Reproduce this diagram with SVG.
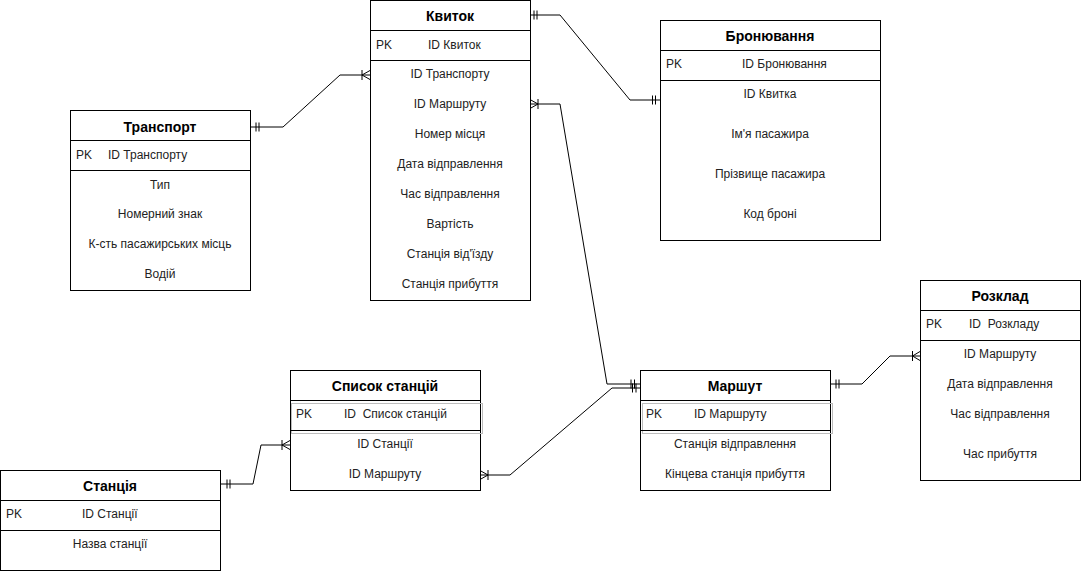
<svg xmlns="http://www.w3.org/2000/svg" width="1082" height="574" viewBox="0 0 1082 574">
<style>
.box{fill:#fff;stroke:#000;stroke-width:1}
.ln{stroke:#000;stroke-width:1;fill:none}
.gr{fill:none;stroke:#bdbdbd;stroke-width:1}
.t{font-family:"Liberation Sans",Arial,Helvetica,sans-serif;font-size:12px;fill:#222}
.c{text-anchor:middle}
.h{font-family:"Liberation Sans",Arial,Helvetica,sans-serif;font-size:14px;font-weight:bold;fill:#000;text-anchor:middle}
.e{stroke:#000;stroke-width:1;fill:none}
</style>
<rect width="1082" height="574" fill="#fff"/>

<g id="connectors">
  <!-- Транспорт -> Квиток -->
  <path class="e" d="M250,127 L283,127 L340,75 L370,75"/>
  <path class="e" d="M256,122.5 V131.5 M259,122.5 V131.5"/>
  <path class="e" d="M362,70 V80 M362,75 L370,70.5 M362,75 L370,79.5"/>
  <!-- Квиток -> Бронювання -->
  <path class="e" d="M530,15 L560,15 L630,100 L660,100"/>
  <path class="e" d="M534,10.5 V19.5 M537,10.5 V19.5"/>
  <path class="e" d="M652.5,95.5 V104.5 M655.5,95.5 V104.5"/>
  <!-- Квиток -> Маршут -->
  <path class="e" d="M530,104 L560,104 L607,384 L640,384"/>
  <path class="e" d="M538,99 V109 M538,104 L530,99.5 M538,104 L530,108.5"/>
  <path class="e" d="M631,379.5 V388.5 M634.5,379.5 V388.5"/>
  <!-- Список станцій -> Маршут -->
  <path class="e" d="M480,475 L510,475 L612,388 L640,388"/>
  <path class="e" d="M488,470 V480 M488,475 L480,470.5 M488,475 L480,479.5"/>
  <path class="e" d="M632.5,383.5 V392.5 M636,383.5 V392.5"/>
  <!-- Станція -> Список станцій -->
  <path class="e" d="M220,484 L253,484 L261,445 L290,445"/>
  <path class="e" d="M227,479.5 V488.5 M230,479.5 V488.5"/>
  <path class="e" d="M282,440 V450 M282,445 L290,440.5 M282,445 L290,449.5"/>
  <!-- Маршут -> Розклад -->
  <path class="e" d="M830,384 L862,384 L890,356 L920,356"/>
  <path class="e" d="M836,379.5 V388.5 M839,379.5 V388.5"/>
  <path class="e" d="M912.5,351 V361 M912.5,356 L920,351.5 M912.5,356 L920,360.5"/>
</g>

<g id="kvytok">
  <rect class="box" x="370.5" y="0.5" width="160" height="300"/>
  <path class="ln" d="M370.5,30.5 H530.5 M370.5,60.5 H530.5"/>
  <text class="h" x="450" y="21">Квиток</text>
  <text class="t" x="376" y="49">PK</text>
  <text class="t" x="428" y="49">ID Квиток</text>
  <text class="t c" x="450" y="78">ID Транспорту</text>
  <text class="t c" x="450" y="108">ID Маршруту</text>
  <text class="t c" x="450" y="138">Номер місця</text>
  <text class="t c" x="450" y="168">Дата відправлення</text>
  <text class="t c" x="450" y="198">Час відправлення</text>
  <text class="t c" x="450" y="228">Вартість</text>
  <text class="t c" x="450" y="258">Станція від'їзду</text>
  <text class="t c" x="450" y="288">Станція прибуття</text>
</g>

<g id="transport">
  <rect class="box" x="70.5" y="110.5" width="180" height="180"/>
  <path class="ln" d="M70.5,140.5 H250.5 M70.5,170.5 H250.5"/>
  <text class="h" x="160" y="132">Транспорт</text>
  <text class="t" x="76" y="159">PK</text>
  <text class="t" x="108" y="159">ID Транспорту</text>
  <text class="t c" x="160" y="189">Тип</text>
  <text class="t c" x="160" y="218">Номерний знак</text>
  <text class="t c" x="160" y="248">К-сть пасажирських місць</text>
  <text class="t c" x="160" y="278">Водій</text>
</g>

<g id="bronyuvannya">
  <rect class="box" x="660.5" y="20.5" width="220" height="220"/>
  <path class="ln" d="M660.5,50.5 H880.5 M660.5,80.5 H880.5"/>
  <text class="h" x="770" y="41">Бронювання</text>
  <text class="t" x="666" y="68">PK</text>
  <text class="t" x="742" y="68">ID Бронювання</text>
  <text class="t c" x="770" y="98">ID Квитка</text>
  <text class="t c" x="770" y="138">Ім'я пасажира</text>
  <text class="t c" x="770" y="178">Прізвище пасажира</text>
  <text class="t c" x="770" y="218">Код броні</text>
</g>

<g id="rozklad">
  <rect class="box" x="920.5" y="280.5" width="160" height="200"/>
  <path class="ln" d="M920.5,310.5 H1080.5 M920.5,340.5 H1080.5"/>
  <text class="h" x="1000" y="301">Розклад</text>
  <text class="t" x="926" y="328">PK</text>
  <text class="t" x="969" y="328" xml:space="preserve">ID  Розкладу</text>
  <text class="t c" x="1000" y="358">ID Маршруту</text>
  <text class="t c" x="1000" y="388">Дата відправлення</text>
  <text class="t c" x="1000" y="418">Час відправлення</text>
  <text class="t c" x="1000" y="458">Час прибуття</text>
</g>

<g id="marshut">
  <rect class="box" x="640.5" y="370.5" width="190" height="120"/>
  <path class="ln" d="M640.5,400.5 H830.5"/>
  <rect class="gr" x="642.5" y="403.5" width="190" height="30"/>
  <path class="ln" d="M640.5,430.5 H830.5"/>
  <text class="h" x="735" y="391">Маршут</text>
  <text class="t" x="646" y="418">PK</text>
  <text class="t" x="694" y="418">ID Маршруту</text>
  <text class="t c" x="735" y="448">Станція відправлення</text>
  <text class="t c" x="735" y="478">Кінцева станція прибуття</text>
</g>

<g id="spysok">
  <rect class="box" x="290.5" y="370.5" width="190" height="120"/>
  <path class="ln" d="M290.5,400.5 H480.5"/>
  <rect class="gr" x="291.5" y="403.5" width="191" height="30"/>
  <path class="ln" d="M290.5,430.5 H480.5"/>
  <text class="h" x="385" y="391">Список станцій</text>
  <text class="t" x="296" y="418">PK</text>
  <text class="t" x="344" y="418" xml:space="preserve">ID  Список станцій</text>
  <text class="t c" x="385" y="448">ID Станції</text>
  <text class="t c" x="385" y="478">ID Маршруту</text>
</g>

<g id="stantsiya">
  <rect class="box" x="0.5" y="470.5" width="220" height="100"/>
  <path class="ln" d="M0.5,500.5 H220.5 M0.5,530.5 H220.5"/>
  <text class="h" x="110" y="491">Станція</text>
  <text class="t" x="6" y="518">PK</text>
  <text class="t" x="82" y="518">ID Станції</text>
  <text class="t c" x="110" y="548">Назва станції</text>
</g>
</svg>
